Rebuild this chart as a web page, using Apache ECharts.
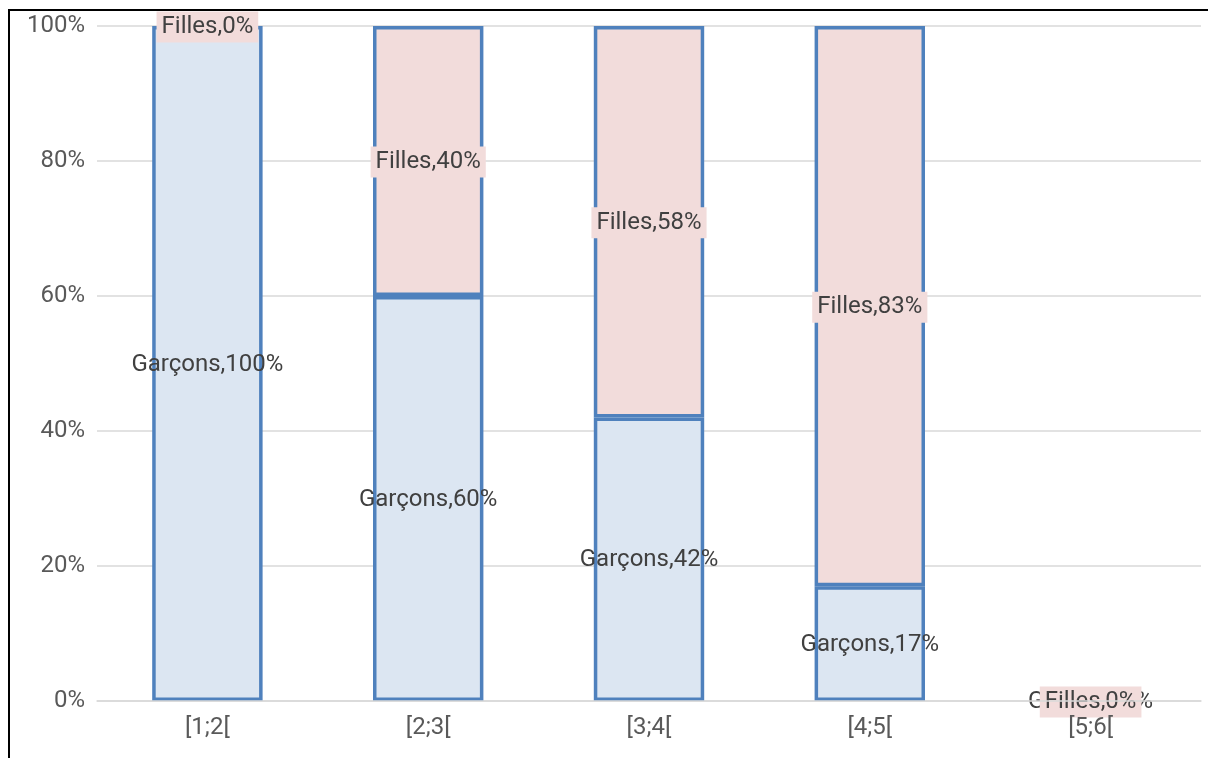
<!DOCTYPE html>
<html>
<head>
<meta charset="utf-8">
<script src="https://cdn.jsdelivr.net/npm/echarts@6/dist/echarts.min.js"></script>
<style>
  html, body { margin: 0; padding: 0; background: #ffffff; }
  #frame {
    position: absolute; left: 8px; top: 9px; width: 1220px; height: 780px;
    border-left: 2px solid #000; border-top: 2px solid #000; box-sizing: border-box;
  }
  #chart { position: absolute; left: 0; top: 0; width: 1208px; height: 758px; }
</style>
</head>
<body>
<div id="frame"></div>
<div id="chart"></div>
<script>
// Tranches d'âge et répartition garçons / filles (en %)
const categories = ['[1;2[', '[2;3[', '[3;4[', '[4;5[', '[5;6['];
const garcons = [100, 60, 42, 17, 0];
const filles = [0, 40, 58, 83, 0];
const yTicks = [0, 20, 40, 60, 80, 100];

const chart = echarts.init(document.getElementById('chart'), null, { renderer: 'canvas' });

const baseFont = 'Roboto, "Noto Sans", sans-serif';

// Empty segments keep their label but draw no outline
const toItems = arr => arr.map(v => v === 0 ? { value: v, itemStyle: { borderWidth: 0 } } : v);

chart.setOption({
  animation: false,
  textStyle: { fontFamily: baseFont },
  grid: { left: 97, right: 7, top: 26, bottom: 57, containLabel: false },
  xAxis: {
    type: 'category',
    data: categories,
    z: 10,
    axisLine: { show: true, lineStyle: { color: '#d9d9d9', width: 1.5 } },
    axisTick: { show: false },
    axisLabel: { color: '#595959', fontSize: 24, fontFamily: baseFont, margin: 15 }
  },
  yAxis: {
    type: 'value',
    min: yTicks[0],
    max: yTicks[yTicks.length - 1],
    interval: 20,
    axisLine: { show: false },
    axisTick: { show: false },
    splitLine: { lineStyle: { color: '#d9d9d9', width: 1.5 } },
    axisLabel: { color: '#595959', fontSize: 24, fontFamily: baseFont, margin: 12, formatter: '{value}%' }
  },
  series: [
    {
      name: 'Garçons',
      type: 'bar',
      stack: 'total',
      barWidth: '50%',
      data: toItems(garcons),
      itemStyle: { color: '#dce6f2', borderColor: '#4f81bd', borderWidth: 3.5 },
      label: {
        show: true,
        position: 'inside',
        offset: [0, 1],
        color: '#404040',
        fontSize: 24,
        fontFamily: baseFont,
        formatter: p => 'Garçons,' + p.value + '%'
      }
    },
    {
      name: 'Filles',
      type: 'bar',
      stack: 'total',
      barWidth: '50%',
      data: toItems(filles),
      itemStyle: { color: '#f2dcdb', borderColor: '#4f81bd', borderWidth: 3.5 },
      label: {
        show: true,
        position: 'inside',
        offset: [0, 1],
        color: '#404040',
        fontSize: 24,
        fontFamily: baseFont,
        backgroundColor: '#f2dcdb',
        padding: [4, 5, 3, 5],
        formatter: p => 'Filles,' + p.value + '%'
      }
    }
  ]
});
</script>
</body>
</html>
